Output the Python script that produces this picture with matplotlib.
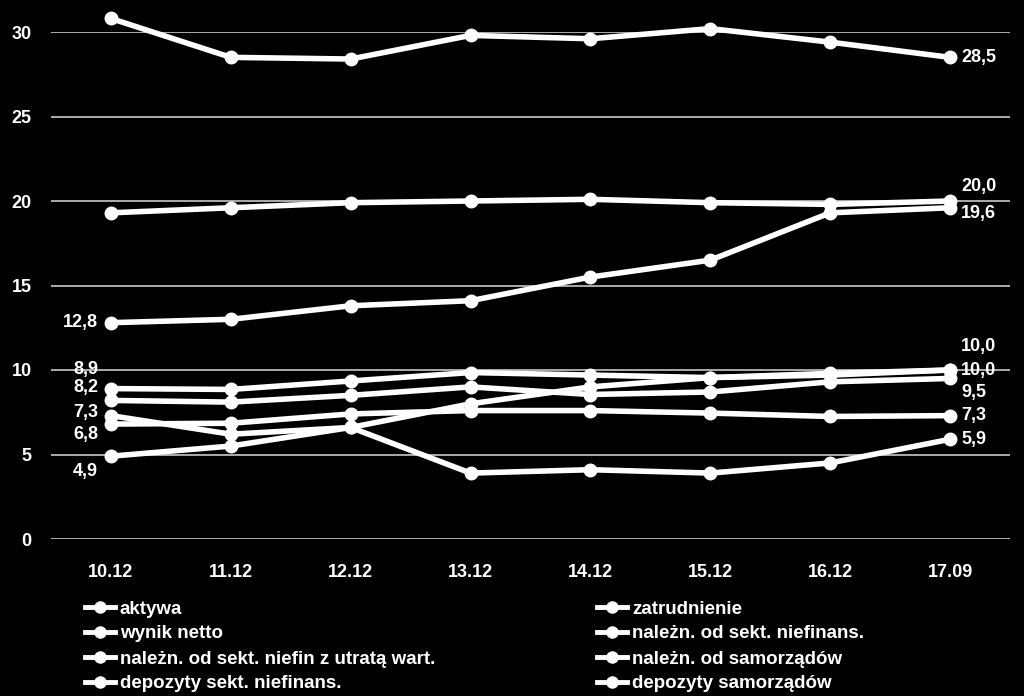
import matplotlib.pyplot as plt
from matplotlib.lines import Line2D

# dane
okresy = ['10.12', '11.12', '12.12', '13.12', '14.12', '15.12', '16.12', '17.09']
nazwy = ['aktywa', 'zatrudnienie', 'wynik netto', 'należn. od sekt. niefinans.',
         'należn. od sekt. niefin z utratą wart.', 'należn. od samorządów',
         'depozyty sekt. niefinans.', 'depozyty samorządów']
aktywa = [8.9, 8.85, 9.35, 9.85, 9.7, 9.55, 9.8, 10.0]
zatrudnienie = [19.3, 19.6, 19.9, 20.0, 20.1, 19.9, 19.8, 20.0]
wynik_netto = [30.8, 28.5, 28.4, 29.8, 29.6, 30.2, 29.4, 28.5]
nal_niefin = [8.2, 8.1, 8.5, 9.0, 8.55, 8.7, 9.3, 9.5]
nal_utrata = [12.8, 13.0, 13.8, 14.1, 15.5, 16.5, 19.3, 19.6]
nal_samorz = [7.3, 6.2, 6.6, 3.9, 4.1, 3.9, 4.5, 5.9]
dep_niefin = [6.8, 6.85, 7.4, 7.6, 7.6, 7.45, 7.25, 7.3]
dep_samorz = [4.9, 5.5, 6.6, 8.0, 9.0, 9.55, 9.7, 10.0]
serie = [aktywa, zatrudnienie, wynik_netto, nal_niefin, nal_utrata, nal_samorz, dep_niefin, dep_samorz]

# przesunięcia etykiet (px): (początek, koniec), None = brak etykiety
etykiety = [((-13, 19), (11, 24)),
            (None, (11, 15)),
            ((-13, 1), (11, 0)),
            ((-13, 13), (11, -14)),
            ((-13, 0), (11, -6)),
            ((-13, 3), (11, 0)),
            ((-13, -10), (11, 0)),
            ((-13, -15), (11, 0))]

FONT = ['Liberation Sans', 'DejaVu Sans']
plt.rcParams['font.family'] = FONT
plt.rcParams['font.weight'] = 'bold'

fig = plt.figure(figsize=(10.24, 6.96), dpi=100, facecolor='black')
ax = fig.add_axes([51 / 1024, 1 - 539 / 696, 959 / 1024, 507 / 696], facecolor='black')

x = range(len(okresy))
for s, (lab_s, lab_e) in zip(serie, etykiety):
    ax.plot(x, s, color='white', lw=4, marker='o', ms=9, clip_on=False, zorder=3)
    if lab_s:
        ax.annotate(f'{s[0]:.1f}'.replace('.', ','), (0, s[0]), xytext=lab_s,
                    textcoords='offset pixels', ha='right', va='center',
                    color='white', fontsize=13, fontweight='bold')
    if lab_e:
        ax.annotate(f'{s[-1]:.1f}'.replace('.', ','), (len(okresy) - 1, s[-1]), xytext=lab_e,
                    textcoords='offset pixels', ha='left', va='center',
                    color='white', fontsize=13, fontweight='bold')

ax.set_xlim(-0.5, len(okresy) - 0.5)
ax.set_ylim(0, 30)
ax.set_yticks(range(0, 31, 5))
ax.set_xticks(list(x))
ax.set_xticklabels(okresy)
ax.grid(axis='y', color='#d9d9d9', lw=1.1)
ax.set_axisbelow(True)
for sp in ax.spines.values():
    sp.set_visible(False)
ax.tick_params(length=0, colors='white', labelsize=13)
ax.tick_params(axis='x', pad=18)
ax.tick_params(axis='y', pad=14)

uchwyty = [Line2D([], [], color='white', lw=3.5, marker='o', ms=8) for _ in nazwy]
kol1 = [0, 2, 4, 6]
kol2 = [1, 3, 5, 7]
for kol, x0 in ((kol1, 0.074), (kol2, 0.574)):
    fig.legend([uchwyty[i] for i in kol], [nazwy[i] for i in kol], loc='upper left',
               bbox_to_anchor=(x0, 1 - 591 / 696), frameon=False, labelcolor='white',
               prop={'family': FONT, 'weight': 'bold', 'size': 13.5},
               handlelength=1.6, handletextpad=0.25, labelspacing=0.42, borderpad=0)

fig.savefig('out.png', dpi=100, facecolor='black')
